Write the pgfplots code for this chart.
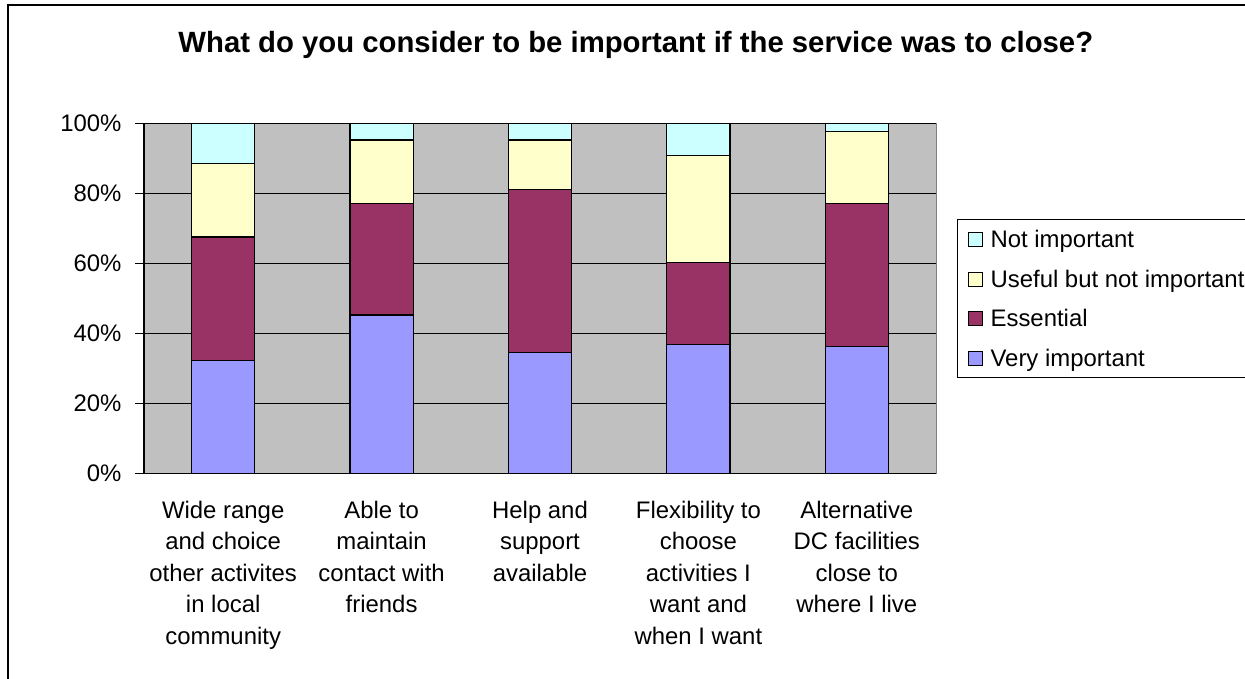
\documentclass[border=0pt]{standalone}
\usepackage{pgfplots}
\pgfplotsset{compat=1.18}
\usepackage{pgfplotstable}
\usepackage{fontspec}
\setmainfont{Liberation Sans}

\definecolor{veryimp}{HTML}{9999FF}
\definecolor{essential}{HTML}{993366}
\definecolor{useful}{HTML}{FFFFCC}
\definecolor{notimp}{HTML}{CCFFFF}
\definecolor{plotgray}{HTML}{C0C0C0}
\definecolor{bordergray}{HTML}{808080}

% shares per category, in percent
\pgfplotstableread{
x    vi    es    us    ni
0.5  32.2  35.3  21.1  11.4
1.5  45.2  31.9  18.1  4.8
2.5  34.4  46.7  14.1  4.8
3.5  36.7  23.5  30.7  9.1
4.5  36.2  40.9  20.6  2.3
}\answers

\begin{document}
\begin{tikzpicture}[x=1bp,y=1bp]
\useasboundingbox (0,0) rectangle (1245,679);
\draw[line width=2bp] (8,-10) -- (8,673.5) -- (1260,673.5);
\node[font=\bfseries\fontsize{29.4}{33}\selectfont, anchor=base] at (635.8,626.3)
  {What do you consider to be important if the service was to close?};

\begin{axis}[
  at={(144bp,205.7bp)}, anchor=south west,
  scale only axis, width=792bp, height=350bp,
  xmin=0, xmax=5, ymin=0, ymax=100,
  ybar stacked, bar width=63.3bp,
  axis background/.style={fill=plotgray, draw=bordergray, line width=1bp},
  axis x line*=bottom, axis y line*=left,
  axis line style={black, line width=1.2bp, -},
  tick align=outside,
  xtick={0.5,1.5,2.5,3.5,4.5},
  xticklabels={
    Wide range\\and choice\\other activites\\in local\\community,
    Able to\\maintain\\contact with\\friends,
    Help and\\support\\available,
    Flexibility to\\choose\\activities I\\want and\\when I want,
    Alternative\\DC facilities\\close to\\where I live},
  x tick style={draw=none},
  minor xtick={0,1,2,3,4,5},
  minor x tick style={black, line width=1.2bp},
  minor tick length=7bp,
  ytick={0,20,40,60,80,100},
  yticklabels={0\%,20\%,40\%,60\%,80\%,100\%},
  y tick style={black, line width=1.2bp},
  major tick length=9bp,
  ymajorgrids, grid style={black, line width=1bp},
  tick label style={font=\fontsize{24}{31.7}\selectfont},
  xticklabel style={align=center, anchor=north, yshift=-15bp},
  yticklabel style={anchor=east, xshift=-10bp},
  every axis plot/.append style={draw=black, line width=1.2bp},
  legend image code/.code={\draw[#1, line width=1bp] (0bp,-7.5bp) rectangle (14bp,6.5bp);},
  reverse legend,
  legend style={at={(1.0265,0.7266)}, anchor=north west,
    draw=black, line width=1.2bp, fill=white,
    font=\fontsize{24}{28}\selectfont,
    inner xsep=10bp, inner ysep=0bp, row sep=0bp, column sep=8bp,
    nodes={inner sep=0pt, text height=28.3bp, text depth=11.2bp},
    cells={anchor=west}},
]
\addplot[fill=veryimp] table[x=x, y=vi] {\answers};
\addplot[fill=essential] table[x=x, y=es] {\answers};
\addplot[fill=useful] table[x=x, y=us] {\answers};
\addplot[fill=notimp] table[x=x, y=ni] {\answers};
\legend{Very important, Essential, Useful but not important, Not important}
\end{axis}
\end{tikzpicture}
\end{document}
